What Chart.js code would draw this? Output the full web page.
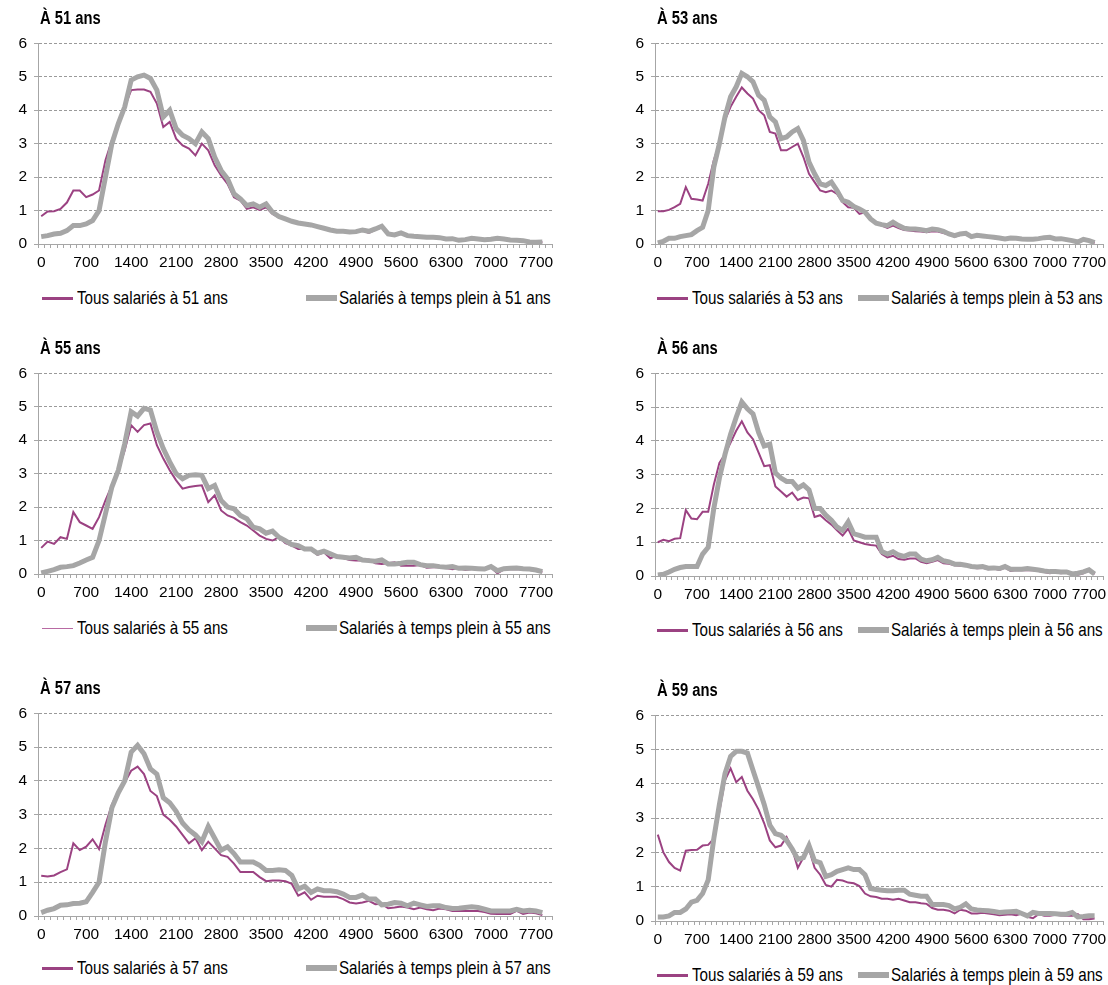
<!DOCTYPE html>
<html lang="fr">
<head>
<meta charset="utf-8">
<script src="https://cdn.jsdelivr.net/npm/chart.js@4.4.1/dist/chart.umd.min.js"></script>
<style>
  html, body { margin: 0; padding: 0; background: #fff; }
  body {
    width: 1108px; height: 985px; position: relative; overflow: hidden;
    font-family: 'Liberation Sans', Arial, sans-serif;
  }
  canvas { position: absolute; }
  /* the source uses a narrow face: squeeze the regular one */
  .panel-title, .leg {
    position: absolute; white-space: nowrap; color: #000;
    transform: scaleX(0.82); transform-origin: 0 50%;
  }
  .panel-title { font-weight: bold; font-size: 18px; line-height: 20px; }
  .leg { font-size: 18.5px; line-height: 20px; }
  .sw { position: absolute; }
</style>
</head>
<body>
<script>
// salary bins (x categories), one label shown every 7 bins
const bins = [0, 100, 200, 300, 400, 500, 600, 700, 800, 900,
  1000, 1100, 1200, 1300, 1400, 1500, 1600, 1700, 1800, 1900,
  2000, 2100, 2200, 2300, 2400, 2500, 2600, 2700, 2800, 2900,
  3000, 3100, 3200, 3300, 3400, 3500, 3600, 3700, 3800, 3900,
  4000, 4100, 4200, 4300, 4400, 4500, 4600, 4700, 4800, 4900,
  5000, 5100, 5200, 5300, 5400, 5500, 5600, 5700, 5800, 5900,
  6000, 6100, 6200, 6300, 6400, 6500, 6600, 6700, 6800, 6900,
  7000, 7100, 7200, 7300, 7400, 7500, 7600, 7700, 7800, 7900];
const labelEvery = 7;
const yTicks = [0, 1, 2, 3, 4, 5, 6];

// À 51 ans
const tous51 = [0.83, 0.97, 0.98, 1.05, 1.24, 1.6, 1.6, 1.4, 1.48, 1.6,
  2.5, 3.1, 3.6, 4.1, 4.6, 4.62, 4.62, 4.55, 4.2, 3.5,
  3.65, 3.15, 2.95, 2.85, 2.65, 3.0, 2.8, 2.35, 2.05, 1.8,
  1.4, 1.3, 1.05, 1.1, 1.02, 1.1, 0.9, 0.8, 0.75, 0.67,
  0.62, 0.6, 0.57, 0.52, 0.47, 0.43, 0.38, 0.37, 0.38, 0.35,
  0.4, 0.33, 0.42, 0.5, 0.3, 0.27, 0.32, 0.23, 0.22, 0.21,
  0.2, 0.18, 0.19, 0.14, 0.15, 0.1, 0.12, 0.15, 0.14, 0.11,
  0.12, 0.15, 0.13, 0.11, 0.1, 0.09, 0.06, 0.05, 0.06];
const plein51 = [0.22, 0.25, 0.3, 0.32, 0.4, 0.55, 0.55, 0.6, 0.7, 1.0,
  2.0, 3.0, 3.6, 4.1, 4.9, 5.0, 5.05, 4.95, 4.6, 3.8,
  4.0, 3.45, 3.25, 3.15, 3.0, 3.35, 3.15, 2.6, 2.2, 1.95,
  1.5, 1.35, 1.15, 1.2, 1.1, 1.2, 0.95, 0.82, 0.75, 0.68,
  0.63, 0.6, 0.57, 0.52, 0.47, 0.42, 0.38, 0.38, 0.36, 0.37,
  0.42, 0.38, 0.45, 0.53, 0.3, 0.27, 0.33, 0.25, 0.23, 0.22,
  0.2, 0.2, 0.19, 0.15, 0.16, 0.11, 0.13, 0.17, 0.15, 0.13,
  0.14, 0.17, 0.15, 0.12, 0.11, 0.1, 0.06, 0.05, 0.06];

// À 53 ans
const tous53 = [0.98, 0.98, 1.02, 1.1, 1.2, 1.7, 1.35, 1.33, 1.3, 1.8,
  2.5, 3.0, 3.7, 4.1, 4.4, 4.68, 4.5, 4.35, 4.0, 3.85,
  3.35, 3.3, 2.8, 2.8, 2.9, 3.0, 2.6, 2.1, 1.85, 1.6,
  1.55, 1.6, 1.5, 1.25, 1.1, 1.08, 0.9, 0.95, 0.75, 0.62,
  0.55, 0.48, 0.55, 0.48, 0.42, 0.4, 0.38, 0.37, 0.35, 0.38,
  0.37, 0.33, 0.28, 0.22, 0.27, 0.28, 0.2, 0.24, 0.22, 0.2,
  0.18, 0.16, 0.13, 0.17, 0.15, 0.13, 0.12, 0.12, 0.15, 0.17,
  0.18, 0.13, 0.14, 0.11, 0.08, 0.04, 0.12, 0.08, 0.03];
const plein53 = [0.03, 0.08, 0.17, 0.17, 0.22, 0.25, 0.28, 0.4, 0.5, 1.0,
  2.3, 3.0, 3.8, 4.4, 4.7, 5.1, 5.0, 4.85, 4.45, 4.3,
  3.8, 3.65, 3.15, 3.2, 3.35, 3.45, 3.1, 2.45, 2.1, 1.8,
  1.75, 1.85, 1.6, 1.3, 1.25, 1.12, 1.05, 0.95, 0.75, 0.62,
  0.58, 0.55, 0.65, 0.55, 0.47, 0.45, 0.45, 0.43, 0.4, 0.45,
  0.43, 0.38, 0.3, 0.25, 0.3, 0.32, 0.22, 0.26, 0.24, 0.22,
  0.2, 0.18, 0.15, 0.18, 0.17, 0.15, 0.14, 0.14, 0.16, 0.19,
  0.2, 0.15, 0.16, 0.13, 0.1, 0.06, 0.14, 0.1, 0.04];

// À 55 ans
const tous55 = [0.78, 0.97, 0.9, 1.1, 1.05, 1.85, 1.55, 1.45, 1.35, 1.7,
  2.2, 2.65, 3.1, 3.7, 4.45, 4.25, 4.45, 4.5, 3.85, 3.45,
  3.1, 2.8, 2.55, 2.6, 2.63, 2.65, 2.15, 2.35, 1.9, 1.75,
  1.68, 1.55, 1.45, 1.3, 1.15, 1.05, 1.0, 1.1, 0.92, 0.85,
  0.75, 0.75, 0.72, 0.57, 0.65, 0.47, 0.55, 0.48, 0.42, 0.4,
  0.4, 0.43, 0.32, 0.3, 0.32, 0.35, 0.25, 0.25, 0.25, 0.27,
  0.19, 0.2, 0.2, 0.18, 0.14, 0.18, 0.12, 0.15, 0.15, 0.12,
  0.2, 0.02, 0.14, 0.14, 0.15, 0.13, 0.12, 0.1, 0.05];
const plein55 = [0.03, 0.08, 0.13, 0.2, 0.22, 0.25, 0.33, 0.42, 0.5, 1.0,
  1.8, 2.6, 3.1, 3.9, 4.85, 4.72, 4.95, 4.9, 4.25, 3.75,
  3.35, 3.0, 2.85, 2.95, 2.97, 2.95, 2.55, 2.65, 2.2, 2.0,
  1.95, 1.75, 1.65, 1.4, 1.35, 1.22, 1.28, 1.1, 1.0, 0.88,
  0.85, 0.75, 0.75, 0.62, 0.68, 0.6, 0.52, 0.5, 0.48, 0.5,
  0.42, 0.4, 0.38, 0.42, 0.3, 0.3, 0.32, 0.35, 0.35, 0.28,
  0.25, 0.25, 0.22, 0.2, 0.22, 0.17, 0.18, 0.17, 0.16, 0.15,
  0.22, 0.1, 0.16, 0.17, 0.18, 0.16, 0.15, 0.12, 0.07];

// À 56 ans
const tous56 = [1.0, 1.07, 1.03, 1.1, 1.12, 1.95, 1.7, 1.68, 1.9, 1.9,
  2.7, 3.35, 3.6, 3.95, 4.3, 4.58, 4.25, 4.05, 3.65, 3.25,
  3.28, 2.65, 2.5, 2.35, 2.47, 2.25, 2.32, 2.3, 1.75, 1.8,
  1.65, 1.52, 1.35, 1.2, 1.4, 1.05, 1.0, 0.95, 0.92, 0.9,
  0.65, 0.55, 0.6, 0.5, 0.48, 0.52, 0.52, 0.42, 0.38, 0.42,
  0.47, 0.38, 0.36, 0.32, 0.3, 0.3, 0.25, 0.23, 0.24, 0.2,
  0.22, 0.18, 0.25, 0.15, 0.18, 0.17, 0.18, 0.17, 0.15, 0.12,
  0.08, 0.1, 0.08, 0.1, 0.05, 0.04, 0.08, 0.18, 0.05];
const plein56 = [0.03, 0.05, 0.12, 0.2, 0.25, 0.28, 0.28, 0.28, 0.65, 0.85,
  2.0, 2.9, 3.6, 4.2, 4.7, 5.15, 4.95, 4.8, 4.25, 3.85,
  3.9, 3.05, 2.9, 2.8, 2.8, 2.6, 2.7, 2.55, 2.0, 2.0,
  1.8, 1.65, 1.45, 1.35, 1.6, 1.25, 1.2, 1.15, 1.15, 1.15,
  0.72, 0.65, 0.72, 0.62, 0.58, 0.65, 0.65, 0.5, 0.45, 0.48,
  0.55, 0.45, 0.42, 0.35, 0.35, 0.32, 0.28, 0.27, 0.28, 0.23,
  0.24, 0.22, 0.28, 0.2, 0.2, 0.2, 0.22, 0.2, 0.18, 0.15,
  0.13, 0.13, 0.12, 0.12, 0.06, 0.08, 0.12, 0.18, 0.06];

// À 57 ans
const tous57 = [1.19, 1.17, 1.2, 1.3, 1.38, 2.15, 1.95, 2.05, 2.27, 1.98,
  2.7, 3.3, 3.7, 3.95, 4.3, 4.42, 4.2, 3.7, 3.55, 3.0,
  2.85, 2.65, 2.4, 2.15, 2.3, 1.95, 2.2, 2.0, 1.8, 1.75,
  1.55, 1.3, 1.3, 1.3, 1.15, 1.03, 1.05, 1.05, 1.03, 0.95,
  0.6, 0.7, 0.48, 0.6, 0.57, 0.57, 0.57, 0.5, 0.4, 0.37,
  0.4, 0.45, 0.35, 0.36, 0.23, 0.25, 0.28, 0.25, 0.2, 0.25,
  0.2, 0.17, 0.22, 0.2, 0.15, 0.15, 0.15, 0.15, 0.15, 0.12,
  0.07, 0.06, 0.06, 0.06, 0.15, 0.06, 0.1, 0.08, 0.03];
const plein57 = [0.1, 0.17, 0.22, 0.32, 0.33, 0.37, 0.38, 0.42, 0.7, 1.0,
  2.2, 3.2, 3.65, 4.0, 4.85, 5.05, 4.8, 4.35, 4.2, 3.5,
  3.35, 3.1, 2.75, 2.55, 2.4, 2.2, 2.65, 2.3, 1.95, 2.05,
  1.85, 1.6, 1.6, 1.6, 1.5, 1.35, 1.35, 1.37, 1.35, 1.2,
  0.8, 0.88, 0.7, 0.8, 0.75, 0.75, 0.72, 0.65, 0.55, 0.55,
  0.62, 0.5, 0.5, 0.33, 0.35, 0.4, 0.38, 0.3, 0.38, 0.33,
  0.28, 0.3, 0.3, 0.25, 0.22, 0.23, 0.25, 0.27, 0.25, 0.2,
  0.15, 0.15, 0.15, 0.15, 0.2, 0.15, 0.17, 0.15, 0.1];

// À 59 ans
const tous59 = [2.52, 2.0, 1.72, 1.55, 1.47, 2.05, 2.07, 2.08, 2.2, 2.22,
  2.4, 3.2, 4.1, 4.45, 4.05, 4.2, 3.8, 3.55, 3.25, 2.85,
  2.35, 2.15, 2.2, 2.45, 2.1, 1.55, 1.85, 2.1, 1.55, 1.35,
  1.05, 1.0, 1.2, 1.18, 1.12, 1.1, 1.02, 0.8, 0.72, 0.7,
  0.65, 0.65, 0.62, 0.65, 0.6, 0.55, 0.55, 0.52, 0.5, 0.38,
  0.33, 0.33, 0.3, 0.22, 0.33, 0.3, 0.22, 0.22, 0.24, 0.22,
  0.2, 0.17, 0.18, 0.2, 0.17, 0.22, 0.12, 0.08, 0.2, 0.15,
  0.15, 0.18, 0.16, 0.15, 0.15, 0.2, 0.05, 0.05, 0.07];
const plein59 = [0.12, 0.12, 0.15, 0.25, 0.25, 0.35, 0.55, 0.6, 0.8, 1.2,
  2.4, 3.4, 4.3, 4.8, 4.95, 4.95, 4.9, 4.4, 3.9, 3.4,
  2.8, 2.55, 2.5, 2.35, 2.1, 1.8, 1.85, 2.2, 1.75, 1.7,
  1.3, 1.35, 1.45, 1.5, 1.55, 1.5, 1.5, 1.35, 0.95, 0.92,
  0.9, 0.88, 0.88, 0.9, 0.9, 0.78, 0.75, 0.72, 0.72, 0.48,
  0.48, 0.48, 0.45, 0.35, 0.4, 0.5, 0.35, 0.32, 0.31, 0.3,
  0.28, 0.25, 0.26, 0.27, 0.28, 0.22, 0.15, 0.25, 0.22, 0.22,
  0.22, 0.21, 0.2, 0.2, 0.25, 0.12, 0.13, 0.15, 0.15];

const FONT = "'Liberation Sans', Arial, sans-serif";
const TICK_SIZE = 15.5;
const PURPLE = '#9b4282';
const GREY = '#a6a6a6';
const GRID = '#9a9a9a';

// layout of the two columns
const cols = [
  { left: 0, width: 556, plotLeft: 38, plotRight: 552, titleX: 40, leg: [42, 77, 306, 339] },
  { left: 600, width: 508, plotLeft: 655, plotRight: 1103, titleX: 657, leg: [657, 692, 858, 891] }
];

// one entry per panel: age, data, column, pixel rows of the 6 and 0 gridlines
const panels = [
  { age: 51, tous: tous51, plein: plein51, col: 0, y6: 37, y0: 244, legY: 298 },
  { age: 53, tous: tous53, plein: plein53, col: 1, y6: 37, y0: 244, legY: 298 },
  { age: 55, tous: tous55, plein: plein55, col: 0, y6: 367, y0: 574, legY: 628, thinLeg: true },
  { age: 56, tous: tous56, plein: plein56, col: 1, y6: 367, y0: 576, legY: 630 },
  { age: 57, tous: tous57, plein: plein57, col: 0, y6: 707, y0: 916, legY: 968 },
  { age: 59, tous: tous59, plein: plein59, col: 1, y6: 709, y0: 921, legY: 975 }
];

const PAD_TOP = 10;
const X_AXIS_H = 32;

function addDiv(cls, text, style) {
  const d = document.createElement('div');
  d.className = cls;
  if (text) d.textContent = text;
  Object.assign(d.style, style);
  document.body.appendChild(d);
  return d;
}

function buildPanel(p) {
  const c = cols[p.col];
  const plotH = p.y0 - p.y6;
  const canvas = document.createElement('canvas');
  canvas.width = c.width;
  canvas.height = PAD_TOP + plotH + X_AXIS_H;
  canvas.style.left = c.left + 'px';
  canvas.style.top = (p.y6 - PAD_TOP) + 'px';
  document.body.appendChild(canvas);

  const labelTous = 'Tous salariés à ' + p.age + ' ans';
  const labelPlein = 'Salariés à temps plein à ' + p.age + ' ans';

  new Chart(canvas.getContext('2d'), {
    type: 'line',
    data: {
      labels: bins,
      datasets: [
        { label: labelTous, data: p.tous, borderColor: PURPLE, borderWidth: 2, pointRadius: 0, tension: 0, order: 1 },
        { label: labelPlein, data: p.plein, borderColor: GREY, borderWidth: 5, pointRadius: 0, tension: 0, order: 0 }
      ]
    },
    options: {
      responsive: false,
      animation: false,
      devicePixelRatio: 1,
      layout: { padding: { top: PAD_TOP, right: c.left + c.width - c.plotRight, left: 0, bottom: 0 } },
      plugins: { legend: { display: false }, title: { display: false }, tooltip: { enabled: false } },
      scales: {
        x: {
          type: 'category',
          offset: true,
          grid: { display: true, offset: true, drawOnChartArea: false, drawTicks: true, tickLength: 4, color: GREY },
          border: { display: true, color: GREY, width: 1 },
          ticks: {
            autoSkip: false, maxRotation: 0, minRotation: 0, padding: 5,
            color: '#000', font: { family: FONT, size: TICK_SIZE },
            callback: (v, i) => (i % labelEvery === 0 ? String(bins[i]) : '')
          },
          afterFit: s => { s.height = X_AXIS_H; }
        },
        y: {
          min: yTicks[0], max: yTicks[yTicks.length - 1],
          afterBuildTicks: s => { s.ticks = yTicks.map(v => ({ value: v })); },
          grid: { color: GRID, lineWidth: 1, drawTicks: true, tickLength: 4, tickBorderDash: [], tickColor: GREY },
          border: { display: true, color: GREY, width: 1, dash: [3, 2] },
          ticks: { padding: 7, color: '#000', font: { family: FONT, size: TICK_SIZE } },
          afterFit: s => { s.width = c.plotLeft - c.left; }
        }
      }
    }
  });

  addDiv('panel-title', 'À ' + p.age + ' ans', { left: c.titleX + 'px', top: (p.y6 - 29) + 'px' });

  // legend
  addDiv('sw', '', {
    left: c.leg[0] + 'px', top: (p.legY - (p.thinLeg ? 0.5 : 1.5)) + 'px', width: '31px',
    height: (p.thinLeg ? 1 : 3) + 'px', background: p.thinLeg ? '#b86aa3' : PURPLE
  });
  addDiv('leg', labelTous, { left: c.leg[1] + 'px', top: (p.legY - 10) + 'px' });
  addDiv('sw', '', { left: c.leg[2] + 'px', top: (p.legY - 3) + 'px', width: '31px', height: '6px', background: GREY });
  addDiv('leg', labelPlein, { left: c.leg[3] + 'px', top: (p.legY - 10) + 'px' });
}

panels.forEach(buildPanel);
</script>
</body>
</html>
